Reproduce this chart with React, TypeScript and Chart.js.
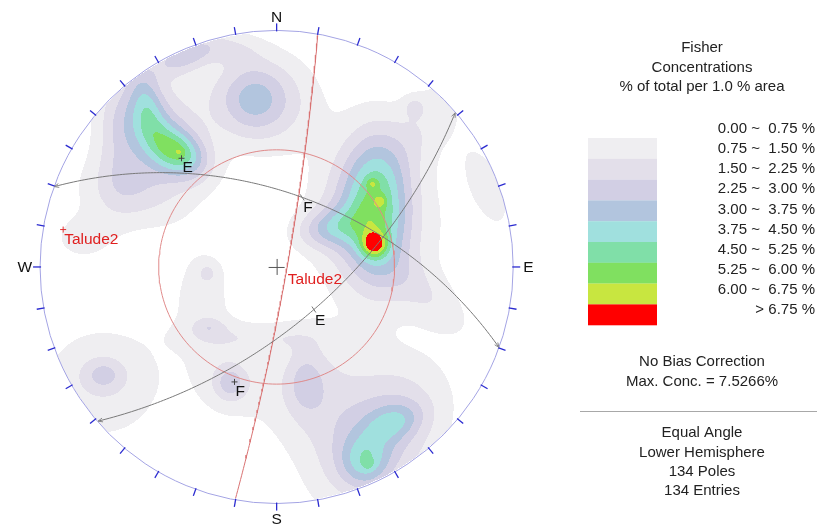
import React, { useEffect, useRef } from "react";
import { Chart, registerables } from "chart.js";

Chart.register(...registerables);

const W = 817;
const H = 531;
// value ranges chosen so that the primitive circle (radius 1) sits at its place in the figure
const xMin = -1.1482;
const xMax = 2.263;
const yMin = -1.1023;
const yMax = 1.1148;

// Planes (dip direction / dip, degrees)
const planeNames = ["E", "F", "Talude2"];
const planeDipDirs = [139, 20, 100];
const planeDips = [63, 55, 85];
const frictionAngle = 37;

// Contour legend
const levelBreaks = [0.75, 1.5, 2.25, 3.0, 3.75, 4.5, 5.25, 6.0, 6.75];
const levelLabels = [
  "0.00 ~  0.75 %",
  "0.75 ~  1.50 %",
  "1.50 ~  2.25 %",
  "2.25 ~  3.00 %",
  "3.00 ~  3.75 %",
  "3.75 ~  4.50 %",
  "4.50 ~  5.25 %",
  "5.25 ~  6.00 %",
  "6.00 ~  6.75 %",
  "> 6.75 %",
];
const levelColors = [
  "#ffffff",
  "#efeef1",
  "#e3dfea",
  "#d2cfe4",
  "#b2c5de",
  "#a0e0de",
  "#80dfa8",
  "#80e060",
  "#c8e640",
  "#ff0000",
];

// Pole concentration sources (net units, x east, y north)
const blobX = [0.413, 0.418, 0.405, 0.438, 0.388, 0.225, 0.626, 0.639, 0.58, 0.889, 0.438,
  -0.409, -0.409, -0.468, -0.551, -0.522, -0.376,
  -0.104, -0.042, -0.18,
  0.372, 0.388, 0.493, 0.43, 0.125, 0.125, 0.292,
  -0.196, -0.196,
  -0.731, -0.739,
  -0.292, -0.288, -0.313, -0.084,
  -0.823, -0.626, -0.668];
const blobY = [0.096, 0.259, 0.355, 0.28, 0.259, 0.167, -0.117, 0.622, 0.685, 0.342, 0.154,
  0.484, 0.489, 0.53, 0.697, 0.593, 0.906,
  0.718, 0.706, 0.927,
  -0.827, -0.839, -0.66, -0.743, -0.493, -0.493, -0.576,
  -0.493, -0.493,
  -0.459, -0.493,
  -0.025, -0.255, -0.138, -0.296,
  0.121, 0.33, 0.572];
const blobAmp = [3.15, 2.75, 1.1, 1.1, 2.0, 2.1, 1.1, 1.1, 0.8, 1.1, 0.9,
  2.3, 0.5, 2.2, 2.0, 1.6, 2.2,
  1.7, 1.8, 0.9,
  2.0, 0.8, 1.6, 2.3, 1.1, 1.1, 0.9,
  1.5, 1.0,
  1.3, 1.4,
  0.9, 0.9, 1.0, 0.9,
  1.0, 1.3, 1.0];
const blobSx = [0.038, 0.092, 0.017, 0.017, 0.142, 0.1, 0.18, 0.188, 0.033, 0.146, 0.25,
  0.084, 0.0125, 0.134, 0.05, 0.167, 0.1,
  0.1, 0.167, 0.084,
  0.071, 0.017, 0.084, 0.23, 0.046, 0.117, 0.271,
  0.046, 0.109,
  0.058, 0.2,
  0.033, 0.046, 0.109, 0.209,
  0.1, 0.159, 0.067];
const blobSy = [0.038, 0.23, 0.017, 0.017, 0.209, 0.058, 0.075, 0.092, 0.033, 0.058, 0.23,
  0.058, 0.0125, 0.079, 0.109, 0.25, 0.046,
  0.1, 0.159, 0.05,
  0.075, 0.017, 0.05, 0.15, 0.075, 0.167, 0.209,
  0.05, 0.117,
  0.046, 0.188,
  0.033, 0.029, 0.188, 0.046,
  0.075, 0.104, 0.188];
const blobRot = [0, 0, 0, 0, 0, 10, -40, 55, 0, 112, 0,
  -30, 0, -40, 10, 0, 22,
  0, 0, 0,
  0, 0, 20, 52, 0, 0, 0,
  0, 0,
  0, 0,
  0, 0, 0, 0,
  0, 0, 0];

const legendTitle = ["Fisher", "Concentrations", "% of total per 1.0 % area"];
const infoTop = ["No Bias Correction", "Max. Conc. = 7.5266%"];
const infoBottom = ["Equal Angle", "Lower Hemisphere", "134 Poles", "134 Entries"];

const FONT = "'Liberation Sans', Arial, Helvetica, sans-serif";
const RAD = Math.PI / 180;

function project(e: number, n: number, d: number) {
  return { x: e / (1 + d), y: n / (1 + d) };
}
function greatCircle(dd: number, dip: number) {
  const s = (dd - 90) * RAD;
  const a = dd * RAD;
  const dp = dip * RAD;
  const pts: { x: number; y: number }[] = [];
  for (let t = 0; t <= 180; t += 1) {
    const th = t * RAD;
    const e = Math.cos(th) * Math.sin(s) + Math.sin(th) * Math.cos(dp) * Math.sin(a);
    const n = Math.cos(th) * Math.cos(s) + Math.sin(th) * Math.cos(dp) * Math.cos(a);
    const d = Math.sin(th) * Math.sin(dp);
    pts.push(project(e, n, d));
  }
  return pts;
}
function poleOf(dd: number, dip: number) {
  const a = dd * RAD;
  const dp = dip * RAD;
  return project(-Math.sin(dp) * Math.sin(a), -Math.sin(dp) * Math.cos(a), Math.cos(dp));
}
function dipPoint(dd: number, dip: number) {
  const a = dd * RAD;
  const dp = dip * RAD;
  return project(Math.cos(dp) * Math.sin(a), Math.cos(dp) * Math.cos(a), Math.sin(dp));
}
function frictionCircle(phi: number) {
  const al = (90 - phi) * RAD;
  const pts: { x: number; y: number }[] = [];
  for (let t = 0; t <= 360; t += 2) {
    pts.push(project(Math.sin(al) * Math.sin(t * RAD), Math.sin(al) * Math.cos(t * RAD), Math.cos(al)));
  }
  return pts;
}
function density(x: number, y: number) {
  let s = 0;
  for (let i = 0; i < blobX.length; i++) {
    const dx = x - blobX[i];
    const dy = y - blobY[i];
    const c = Math.cos(blobRot[i] * RAD);
    const sn = Math.sin(blobRot[i] * RAD);
    const u = (dx * c + dy * sn) / blobSx[i];
    const v = (-dx * sn + dy * c) / blobSy[i];
    const q = u * u + v * v;
    if (q < 40) s += blobAmp[i] * Math.exp(-0.5 * q);
  }
  return s;
}
function hexRgb(h: string) {
  return [parseInt(h.slice(1, 3), 16), parseInt(h.slice(3, 5), 16), parseInt(h.slice(5, 7), 16)];
}

const contourPlugin = {
  id: "contours",
  beforeDatasetsDraw(chart: any) {
    const ctx = chart.ctx as CanvasRenderingContext2D;
    const xs = chart.scales.x;
    const ys = chart.scales.y;
    const x0 = Math.floor(xs.getPixelForValue(-1)) - 1;
    const x1 = Math.ceil(xs.getPixelForValue(1)) + 1;
    const y0 = Math.floor(ys.getPixelForValue(1)) - 1;
    const y1 = Math.ceil(ys.getPixelForValue(-1)) + 1;
    const w = x1 - x0;
    const h = y1 - y0;
    const img = ctx.getImageData(x0, y0, w, h);
    const rgb = levelColors.map(hexRgb);
    for (let j = 0; j < h; j++) {
      const y = ys.getValueForPixel(y0 + j + 0.5);
      for (let i = 0; i < w; i++) {
        const x = xs.getValueForPixel(x0 + i + 0.5);
        if (x * x + y * y > 1) continue;
        const d = density(x, y);
        let lv = 0;
        while (lv < levelBreaks.length && d >= levelBreaks[lv]) lv++;
        if (lv === 0) continue;
        const c = rgb[lv];
        const k = (j * w + i) * 4;
        img.data[k] = c[0];
        img.data[k + 1] = c[1];
        img.data[k + 2] = c[2];
        img.data[k + 3] = 255;
      }
    }
    ctx.putImageData(img, x0, y0);
  },
};

const overlayPlugin = {
  id: "overlay",
  afterDatasetsDraw(chart: any) {
    const ctx = chart.ctx as CanvasRenderingContext2D;
    const xs = chart.scales.x;
    const ys = chart.scales.y;
    const px = (v: number) => xs.getPixelForValue(v);
    const py = (v: number) => ys.getPixelForValue(v);
    const cx = px(0);
    const cy = py(0);
    const R = px(1) - cx;
    ctx.save();
    // primitive
    ctx.strokeStyle = "#a4a4e4";
    ctx.lineWidth = 1;
    ctx.beginPath();
    ctx.arc(cx, cy, R, 0, Math.PI * 2);
    ctx.stroke();
    // ticks every 10 degrees
    ctx.strokeStyle = "#2b2bd0";
    ctx.lineWidth = 1.3;
    for (let a = 0; a < 360; a += 10) {
      const s = Math.sin(a * RAD);
      const c = Math.cos(a * RAD);
      ctx.beginPath();
      ctx.moveTo(cx + s * (R - 1), cy - c * (R - 1));
      ctx.lineTo(cx + s * (R + 7), cy - c * (R + 7));
      ctx.stroke();
    }
    // cardinal labels
    ctx.fillStyle = "#111";
    ctx.font = `15.5px ${FONT}`;
    ctx.textAlign = "center";
    ctx.textBaseline = "middle";
    ctx.fillText("N", cx, cy - R - 13);
    ctx.fillText("S", cx, cy + R + 16);
    ctx.textAlign = "right";
    ctx.fillText("W", cx - R - 8, cy + 1);
    ctx.textAlign = "left";
    ctx.fillText("E", cx + R + 10, cy + 1);
    // centre cross
    ctx.strokeStyle = "#555";
    ctx.lineWidth = 1;
    ctx.beginPath();
    ctx.moveTo(cx - 8, cy + 0.5);
    ctx.lineTo(cx + 8, cy + 0.5);
    ctx.moveTo(cx + 0.5, cy - 8);
    ctx.lineTo(cx + 0.5, cy + 8);
    ctx.stroke();
    // small arrow marks at the ends of the black planes
    ctx.strokeStyle = "#8a8a8a";
    for (let i = 0; i < planeNames.length; i++) {
      if (planeNames[i] === "Talude2") continue;
      const pts = greatCircle(planeDipDirs[i], planeDips[i]);
      const ends = [
        [pts[0], pts[4]],
        [pts[pts.length - 1], pts[pts.length - 5]],
      ];
      for (const [a, b] of ends) {
        const ax = px(a.x), ay = py(a.y), bx = px(b.x), by = py(b.y);
        const ang = Math.atan2(by - ay, bx - ax);
        ctx.beginPath();
        ctx.moveTo(ax + 5 * Math.cos(ang + 0.4), ay + 5 * Math.sin(ang + 0.4));
        ctx.lineTo(ax, ay);
        ctx.lineTo(ax + 5 * Math.cos(ang - 0.4), ay + 5 * Math.sin(ang - 0.4));
        ctx.stroke();
      }
    }
    // plane / pole labels
    ctx.textAlign = "left";
    ctx.textBaseline = "top";
    for (let i = 0; i < planeNames.length; i++) {
      const isRed = planeNames[i] === "Talude2";
      const dp = dipPoint(planeDipDirs[i], planeDips[i]);
      const pl = poleOf(planeDipDirs[i], planeDips[i]);
      ctx.fillStyle = isRed ? "#e02020" : "#111";
      ctx.font = `15.5px ${FONT}`;
      ctx.fillText(planeNames[i], px(dp.x) + 1, py(dp.y) + 3);
      ctx.fillText(planeNames[i], px(pl.x) + 1, py(pl.y) + 2);
      if (!isRed) {
        ctx.strokeStyle = "#777";
        ctx.beginPath();
        ctx.moveTo(px(dp.x) - 2, py(dp.y) - 3);
        ctx.lineTo(px(dp.x) + 2, py(dp.y) + 3);
        ctx.stroke();
      }
    }
    // legend
    const lx = 702;
    ctx.fillStyle = "#222";
    ctx.font = `15px ${FONT}`;
    ctx.textAlign = "center";
    ctx.textBaseline = "middle";
    legendTitle.forEach((t, i) => ctx.fillText(t, lx, 48 + i * 19.5));
    for (let i = 1; i < levelColors.length; i++) {
      ctx.fillStyle = levelColors[i];
      ctx.fillRect(588, 138 + (i - 1) * 20.8, 69, 20.9);
    }
    ctx.fillStyle = "#222";
    ctx.textAlign = "right";
    levelLabels.forEach((t, i) => ctx.fillText(t, 815, 129 + i * 20.1));
    ctx.textAlign = "center";
    infoTop.forEach((t, i) => ctx.fillText(t, lx, 362 + i * 19.8));
    ctx.strokeStyle = "#a8a8a8";
    ctx.beginPath();
    ctx.moveTo(580, 411.5);
    ctx.lineTo(817, 411.5);
    ctx.stroke();
    infoBottom.forEach((t, i) => ctx.fillText(t, lx, 433 + i * 19.4));
    ctx.restore();
  },
};

export default function App() {
  const ref = useRef<HTMLCanvasElement | null>(null);
  useEffect(() => {
    document.body.style.margin = "0";
    const canvas = ref.current;
    if (!canvas) return;
    const lineSets: any[] = planeNames.map((name, i) => ({
      type: "line",
      label: name,
      data: greatCircle(planeDipDirs[i], planeDips[i]),
      showLine: true,
      borderColor: name === "Talude2" ? "#d97272" : "#7a7a7a",
      borderWidth: 1,
      pointRadius: 0,
      tension: 0,
      fill: false,
    }));
    lineSets.push({
      type: "line",
      label: "friction",
      data: frictionCircle(frictionAngle),
      showLine: true,
      borderColor: "#e08a8a",
      borderWidth: 1,
      pointRadius: 0,
      tension: 0,
      fill: false,
    });
    lineSets.push({
      type: "scatter",
      label: "poles",
      data: planeNames.map((_, i) => poleOf(planeDipDirs[i], planeDips[i])),
      pointStyle: "cross",
      pointRadius: 3,
      borderWidth: 1,
      borderColor: planeNames.map((n) => (n === "Talude2" ? "#e03030" : "#444")),
      backgroundColor: "transparent",
    });
    const chart = new Chart(canvas, {
      type: "scatter",
      data: { datasets: lineSets },
      options: {
        animation: false,
        responsive: false,
        layout: { padding: 0 },
        plugins: { legend: { display: false }, tooltip: { enabled: false }, title: { display: false } },
        scales: {
          x: { type: "linear", min: xMin, max: xMax, display: false },
          y: { type: "linear", min: yMin, max: yMax, display: false },
        },
      },
      plugins: [contourPlugin, overlayPlugin],
    } as any);
    return () => chart.destroy();
  }, []);
  return (
    <div style={{ width: W, height: H, background: "#fff" }}>
      <canvas ref={ref} width={W} height={H} style={{ display: "block" }} />
    </div>
  );
}
